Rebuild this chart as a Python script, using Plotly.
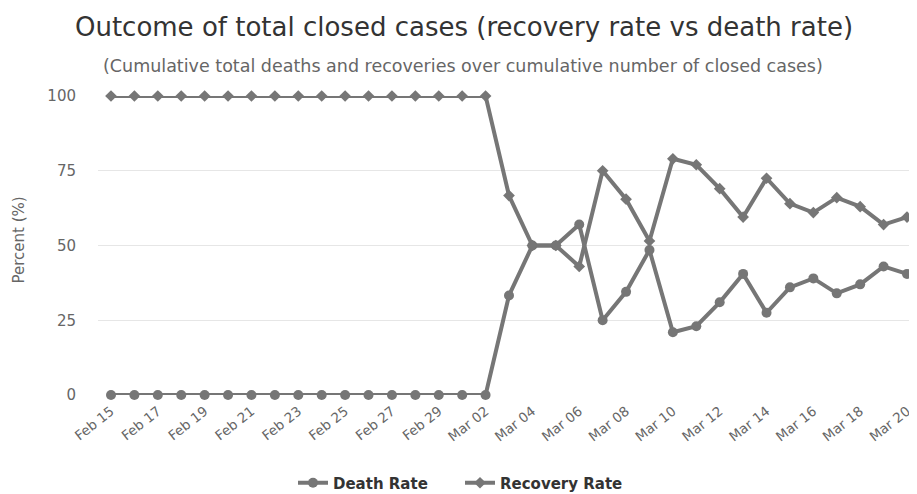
import plotly.graph_objects as go

dates = [
    "2020-02-15", "2020-02-16", "2020-02-17", "2020-02-18", "2020-02-19",
    "2020-02-20", "2020-02-21", "2020-02-22", "2020-02-23", "2020-02-24",
    "2020-02-25", "2020-02-26", "2020-02-27", "2020-02-28", "2020-02-29",
    "2020-03-01", "2020-03-02", "2020-03-03", "2020-03-04", "2020-03-05",
    "2020-03-06", "2020-03-07", "2020-03-08", "2020-03-09", "2020-03-10",
    "2020-03-11", "2020-03-12", "2020-03-13", "2020-03-14", "2020-03-15",
    "2020-03-16", "2020-03-17", "2020-03-18", "2020-03-19", "2020-03-20",
]

death_rate = [
    0, 0, 0, 0, 0, 0, 0, 0, 0, 0, 0, 0, 0, 0, 0, 0, 0,
    33.3, 50, 50, 57, 25, 34.5, 48.5, 21, 23, 31, 40.5, 27.5, 36, 39, 34, 37, 43, 40.5,
]

recovery_rate = [
    100, 100, 100, 100, 100, 100, 100, 100, 100, 100, 100, 100, 100, 100, 100, 100, 100,
    66.7, 50, 50, 43, 75, 65.5, 51.5, 79, 77, 69, 59.5, 72.5, 64, 61, 66, 63, 57, 59.5,
]

title_text = "Outcome of total closed cases (recovery rate vs death rate)"
subtitle_text = "(Cumulative total deaths and recoveries over cumulative number of closed cases)"
y_title = "Percent (%)"
y_ticks = [0, 25, 50, 75, 100]

LINE = "#767676"
FONT = "DejaVu Sans"

W, H = 909, 486
L, T, B = 90, 88, 99
PW, PH = W - L, H - T - B

fig = go.Figure()
fig.add_trace(go.Scatter(
    x=dates, y=death_rate, name="Death Rate", mode="lines+markers",
    line=dict(color=LINE, width=4),
    marker=dict(symbol="circle", size=10, color=LINE),
    cliponaxis=False,
))
fig.add_trace(go.Scatter(
    x=dates, y=recovery_rate, name="Recovery Rate", mode="lines+markers",
    line=dict(color=LINE, width=4),
    marker=dict(symbol="diamond", size=9, color=LINE),
    cliponaxis=False,
))

fig.update_layout(
    width=W, height=H,
    margin=dict(l=L, r=0, t=T, b=B),
    paper_bgcolor="white", plot_bgcolor="white",
    font=dict(family=FONT, color="#666666", size=14),
    title=dict(text=title_text, x=456 / W, xref="container", xanchor="center",
               y=1 - 19 / H, yref="container", yanchor="middle",
               font=dict(family=FONT, size=26, color="#333333")),
    showlegend=True,
    legend=dict(orientation="h", xref="container", x=285 / W, xanchor="left",
                yref="container", y=1 - 475 / H, yanchor="middle",
                font=dict(family=FONT, size=15, color="#333333", weight="bold"),
                itemwidth=30, entrywidth=122),
    xaxis=dict(
        type="date",
        range=["2020-02-14 10:41:00", "2020-03-20 10:15:00"],
        tick0="2020-02-15", dtick=2 * 86400000, tickformat="%b %d",
        tickangle=-38, showgrid=False, zeroline=False, showline=False,
        ticklabelstandoff=5,
        tickfont=dict(family=FONT, size=13.5, color="#666666"),
    ),
    yaxis=dict(
        range=[0, 100], tickvals=y_ticks, showgrid=True, gridcolor="#e6e6e6",
        gridwidth=1, zeroline=False, showline=False,
        ticklabelstandoff=21,
        tickfont=dict(family=FONT, size=15, color="#666666"),
    ),
    annotations=[
        dict(text=subtitle_text, xref="paper", yref="paper",
             x=(455 - L) / PW, y=(T + PH - 58) / PH, xanchor="center", yanchor="middle",
             showarrow=False, font=dict(family=FONT, size=17.5, color="#666666")),
        dict(text=y_title, xref="paper", yref="paper",
             x=(10.5 - L) / PW, y=(T + PH - 232) / PH, xanchor="center", yanchor="middle",
             textangle=-90, showarrow=False,
             font=dict(family=FONT, size=15, color="#666666")),
    ],
)

fig.write_html("out.html")
